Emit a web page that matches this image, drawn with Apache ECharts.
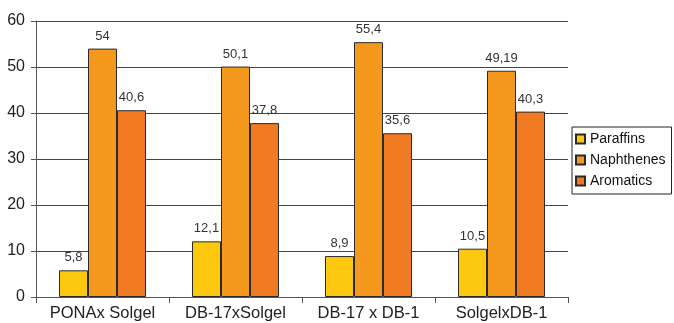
<!DOCTYPE html>
<html>
<head>
<meta charset="utf-8">
<script src="https://cdn.jsdelivr.net/npm/echarts@6/dist/echarts.min.js"></script>
<style>
  html, body { margin: 0; padding: 0; background: #fff; }
  #chart { width: 674px; height: 323px; }
</style>
</head>
<body>
<div id="chart"></div>
<script>
// Column groups and composition values per column pair
const categories = ['PONAx Solgel', 'DB-17xSolgel', 'DB-17 x DB-1', 'SolgelxDB-1'];
const paraffins = [5.8, 12.1, 8.9, 10.5];
const naphthenes = [54, 50.1, 55.4, 49.19];
const aromatics = [40.6, 37.8, 35.6, 40.3];
const yTicks = { min: 0, max: 60, interval: 10 };

const FONT = 'Liberation Sans, Arial, sans-serif';
const chart = echarts.init(document.getElementById('chart'), null, { renderer: 'canvas' });

function makeSeries(name, data, color) {
  return {
    name: name,
    type: 'bar',
    data: data,
    barGap: '0%',
    barCategoryGap: '34.6%',
    itemStyle: { color: color, borderColor: '#2a2a2a', borderWidth: 1 },
    label: {
      show: true,
      position: 'top',
      distance: 6,
      color: '#333',
      fontFamily: FONT,
      fontSize: 13,
      formatter: p => String(p.value).replace('.', ',')
    }
  };
}

chart.setOption({
  animation: false,
  backgroundColor: '#fff',
  grid: { left: 36, right: 106, top: 21, bottom: 26, containLabel: false },
  legend: {
    orient: 'vertical',
    left: 572,
    top: 127,
    icon: 'rect',
    itemWidth: 9,
    itemHeight: 9,
    itemGap: 7,
    padding: [5, 6, 6, 3],
    borderColor: '#222',
    borderWidth: 1,
    textStyle: { color: '#111', fontSize: 14, fontFamily: FONT },
    data: ['Paraffins', 'Naphthenes', 'Aromatics']
  },
  xAxis: {
    type: 'category',
    data: categories,
    axisLine: { lineStyle: { color: '#555', width: 1 } },
    axisTick: { show: true, interval: 0, length: 6, alignWithLabel: false, lineStyle: { color: '#555' } },
    axisLabel: { interval: 0, hideOverlap: false, color: '#222', fontSize: 16.5, margin: 8, fontFamily: FONT },
    splitLine: { show: false }
  },
  yAxis: {
    type: 'value',
    min: yTicks.min,
    max: yTicks.max,
    interval: yTicks.interval,
    axisLine: { show: true, lineStyle: { color: '#555', width: 1 } },
    axisTick: { show: true, length: 5, lineStyle: { color: '#555' } },
    axisLabel: { color: '#222', fontSize: 16, margin: 11, fontFamily: FONT },
    splitLine: { show: true, lineStyle: { color: '#444', width: 1 } }
  },
  series: [
    makeSeries('Paraffins', paraffins, '#FDC90F'),
    makeSeries('Naphthenes', naphthenes, '#F5991E'),
    makeSeries('Aromatics', aromatics, '#F17B22')
  ]
});
</script>
</body>
</html>
